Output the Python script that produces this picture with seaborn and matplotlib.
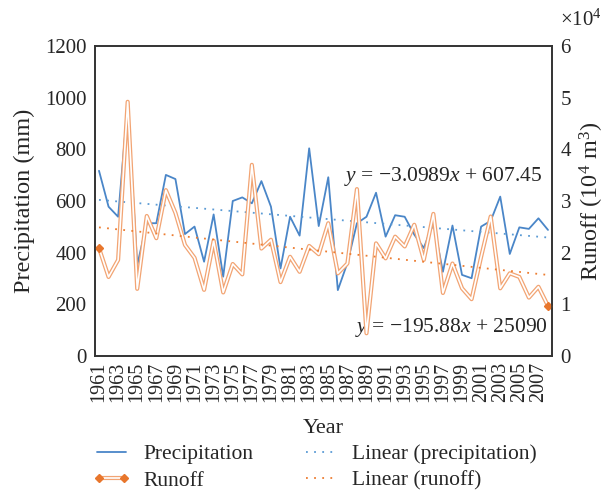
import numpy as np
import pandas as pd
import matplotlib
matplotlib.use("Agg")
import matplotlib.pyplot as plt
import seaborn as sns
from matplotlib.lines import Line2D
from matplotlib.legend_handler import HandlerBase

# ---------------- data ----------------
years = list(range(1961, 2009))
precipitation = [717, 578, 539, 975, 352, 514, 514, 701, 685, 472,
                 501, 365, 548, 307, 600, 614, 591, 677, 578, 339,
                 539, 466, 804, 503, 692, 255, 360, 514, 539, 632,
                 462, 545, 539, 470, 418, 517, 326, 505, 314, 301,
                 501, 523, 617, 395, 498, 492, 533, 488]
runoff = [20900, 15300, 18600, 49200, 13000, 27100, 22800, 32100, 27700, 21500,
          19000, 12800, 22300, 12300, 17800, 15800, 37000, 20800, 22500, 14300,
          19200, 16300, 21300, 19700, 25700, 16000, 17900, 32300, 4400, 21800,
          18900, 23100, 21200, 25400, 18600, 27500, 12200, 17900, 13100, 11000,
          19200, 27000, 13100, 16000, 15300, 11300, 13400, 9700]
precip_slope, precip_intercept = -3.0989, 607.45
runoff_slope, runoff_intercept = -195.88, 25090
year_ticks = list(range(1961, 2008, 2))
precip_ticks = [0, 200, 400, 600, 800, 1000, 1200]
runoff_ticks = [0, 10000, 20000, 30000, 40000, 50000, 60000]

df = pd.DataFrame({"Year": years, "Precipitation": precipitation, "Runoff": runoff})
idx = np.arange(1, len(years) + 1)
df["LinP"] = precip_intercept + precip_slope * idx
df["LinR"] = runoff_intercept + runoff_slope * idx

# ---------------- style ----------------
sns.set_style("white")
plt.rcParams["font.family"] = ["Liberation Serif", "DejaVu Serif"]
plt.rcParams["mathtext.fontset"] = "custom"
plt.rcParams["mathtext.rm"] = "Liberation Serif"
plt.rcParams["mathtext.it"] = "Liberation Serif:italic"

blue = "#4A86C8"
blue_trend = "#5B9BD5"
orange_line = "#F2A473"
orange_mark = "#E8762C"
orange_trend = "#ED7D31"
spine_c = "#333333"


class DoubleLineHandler(HandlerBase):
    def create_artists(self, legend, orig_handle, xdescent, ydescent,
                       width, height, fontsize, trans):
        pad = 0.1 * fontsize
        xs = [-xdescent + pad, width - xdescent - pad]
        y = (height - ydescent) / 2.0
        outer = Line2D(xs, [y, y], color=orange_line, lw=3.0, solid_capstyle="butt")
        inner = Line2D(xs, [y, y], color="white", lw=1.2, solid_capstyle="butt")
        marks = Line2D(xs, [y, y], ls="none", marker="D", ms=4.5, color=orange_mark)
        for a in (outer, inner, marks):
            a.set_transform(trans)
        return [outer, inner, marks]


fig = plt.figure(figsize=(6.15, 4.92), dpi=100)
ax = fig.add_axes([95 / 615, 1 - 356 / 492, 457 / 615, 310 / 492])
ax2 = ax.twinx()

# precipitation line + trend
sns.lineplot(data=df, x="Year", y="Precipitation", ax=ax, color=blue, lw=1.3)
sns.lineplot(data=df, x="Year", y="LinP", ax=ax, color=blue_trend, lw=1.3,
             linestyle=(0, (1, 3.5)))

# runoff double line + trend
sns.lineplot(data=df, x="Year", y="Runoff", ax=ax2, color=orange_line, lw=3.0)
sns.lineplot(data=df, x="Year", y="Runoff", ax=ax2, color="white", lw=1.2)
ax2.plot([df["Year"].iloc[0], df["Year"].iloc[-1]],
         [df["Runoff"].iloc[0], df["Runoff"].iloc[-1]],
         linestyle="none", marker="D", ms=4.5, color=orange_mark)
sns.lineplot(data=df, x="Year", y="LinR", ax=ax2, color=orange_trend, lw=1.3,
             linestyle=(0, (1, 3.5)))

xm = 4 / 9.55
ax.set_xlim(years[0] - xm, years[-1] + xm)
ax.set_ylim(0, 1200)
ax2.set_ylim(0, 60000)
ax.set_xticks(year_ticks)
ax.set_xticklabels([str(y) for y in year_ticks], rotation=90)
ax.set_yticks(precip_ticks)
ax2.set_yticks(runoff_ticks)
ax2.ticklabel_format(axis="y", style="sci", scilimits=(4, 4), useMathText=True)
ax2.yaxis.get_offset_text().set_visible(False)

for a in (ax, ax2):
    a.tick_params(length=0, labelsize=15, pad=6)
    for s in a.spines.values():
        s.set_color(spine_c)
        s.set_linewidth(1.2)
        s.set_visible(True)
ax.tick_params(axis="x", pad=4, labelsize=14.5)

ax.set_xlabel("Year", fontsize=16, labelpad=12)
ax.set_ylabel("Precipitation (mm)", fontsize=17.5, labelpad=7)
ax2.set_ylabel("Runoff (10$^4$ m$^3$)", fontsize=17.5, labelpad=4)
fig.text(560 / 615, 1 - 20 / 492, "×10$^4$", va="center", ha="left", fontsize=15)

ax.text(0.978, 0.578, "$y$ = −3.0989$x$ + 607.45", transform=ax.transAxes,
        ha="right", va="center", fontsize=15.5)
ax.text(0.99, 0.093, "$y$ = −195.88$x$ + 25090", transform=ax.transAxes,
        ha="right", va="center", fontsize=15.5)

# legend
h_p = Line2D([], [], color=blue, lw=1.3)
h_r = Line2D([], [], color=orange_line)
h_lp = Line2D([], [], color=blue_trend, lw=1.3, linestyle=(0, (1, 3.5)))
h_lr = Line2D([], [], color=orange_trend, lw=1.3, linestyle=(0, (1, 3.5)))
fig.legend([h_p, h_r, h_lp, h_lr],
           ["Precipitation", "Runoff", "Linear (precipitation)", "Linear (runoff)"],
           handler_map={h_r: DoubleLineHandler()},
           loc="upper left", bbox_to_anchor=(97 / 615, 1 - 444 / 492), ncol=2,
           frameon=False, fontsize=15.5, handlelength=1.35, columnspacing=2.45,
           labelspacing=0.3, handletextpad=0.8, borderpad=0, borderaxespad=0)

fig.savefig("out.png", dpi=100)
